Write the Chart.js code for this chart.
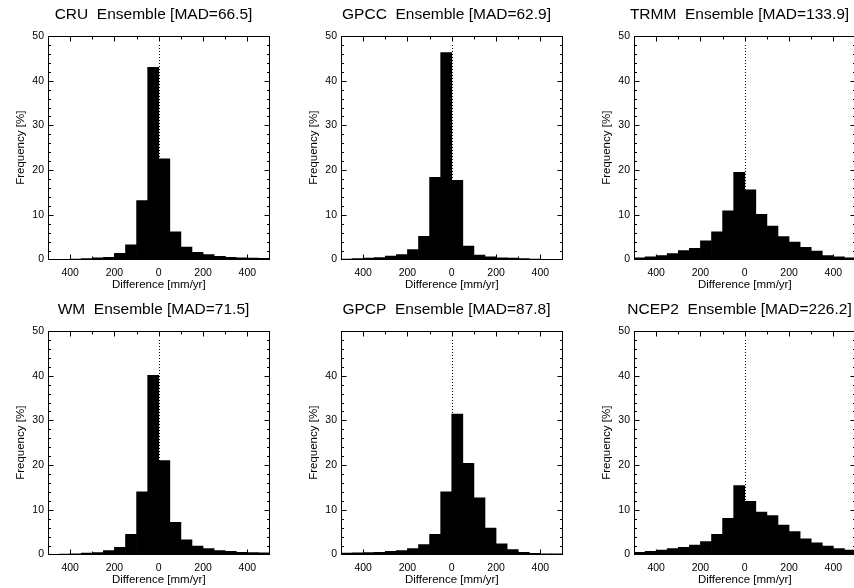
<!DOCTYPE html>
<html>
<head>
<meta charset="utf-8">
<script src="https://cdn.jsdelivr.net/npm/chart.js@4.4.1/dist/chart.umd.min.js"></script>
<style>
html,body{margin:0;padding:0;background:#fff;}
#wrap{position:relative;width:854px;height:588px;overflow:hidden;}
#wrap canvas{position:absolute;}
</style>
</head>
<body>
<div id="wrap"></div>
<script>
// bin centres of the 50 mm/yr bins, -500..500
const BIN_CENTERS = [-475,-425,-375,-325,-275,-225,-175,-125,-75,-25,25,75,125,175,225,275,325,375,425,475];

// frequency [%] per bin
const CRU   = [0.05,0.05,0.1,0.2,0.35,0.5,1.4,3.3,13.2,43.0,22.5,6.2,2.8,1.6,1.1,0.7,0.5,0.4,0.3,0.25];
const GPCC  = [0.1,0.2,0.3,0.45,0.75,1.1,2.2,5.2,18.4,46.3,17.7,3.0,1.0,0.6,0.4,0.3,0.2,0.1,0.05,0.05];
const TRMM  = [0.4,0.6,0.9,1.3,2.0,2.5,4.2,6.2,10.9,19.5,15.6,10.1,7.5,5.1,3.9,2.7,1.9,0.9,0.6,0.4];
const WM    = [0.05,0.1,0.15,0.3,0.45,0.9,1.6,4.5,14.0,40.1,21.0,7.2,3.3,1.9,1.3,0.9,0.7,0.5,0.45,0.35];
const GPCP  = [0.3,0.35,0.45,0.5,0.7,0.9,1.3,2.2,4.5,14.0,31.4,20.4,12.7,5.9,2.4,1.1,0.5,0.25,0.15,0.15];
const NCEP2 = [0.5,0.7,1.0,1.3,1.6,2.1,2.9,4.5,8.1,15.4,11.9,9.5,8.7,6.6,5.1,3.5,2.6,1.9,1.3,1.0];

const TITLES = [
  'CRU  Ensemble [MAD=66.5]',
  'GPCC  Ensemble [MAD=62.9]',
  'TRMM  Ensemble [MAD=133.9]',
  'WM  Ensemble [MAD=71.5]',
  'GPCP  Ensemble [MAD=87.8]',
  'NCEP2  Ensemble [MAD=226.2]'
];
const SERIES = [CRU, GPCC, TRMM, WM, GPCP, NCEP2];

const X_TICKS = [-400,-200,0,200,400];
const X_TICK_LABELS = ['400','200','0','200','400'];
const X_MINOR = [-300,-100,100,300];
const Y_TICKS = [0,10,20,30,40,50];
const Y_TICKS_GPCP = [0,10,20,30,40];
const ZERO_LINE_TOP = 48;

const FONT = "'Liberation Sans', Arial, Helvetica, sans-serif";

// dotted zero line under the bars, then inward IDL-style ticks and the box
const frame = {
  id: 'frame',
  beforeDatasetsDraw(chart){
    const {ctx, scales:{x, y}} = chart;
    const p = Math.round(x.getPixelForValue(0))+0.5;
    ctx.save();
    ctx.strokeStyle = '#000';
    ctx.lineWidth = 1;
    ctx.setLineDash([1, 2]);
    ctx.beginPath();
    ctx.moveTo(p, Math.round(y.getPixelForValue(ZERO_LINE_TOP)));
    ctx.lineTo(p, y.getPixelForValue(0));
    ctx.stroke();
    ctx.restore();
  },
  afterDatasetsDraw(chart){
    const {ctx, chartArea:a, scales:{x, y}} = chart;
    const L = Math.round(a.left)+0.5, R = Math.round(a.right)-0.5;
    const T = Math.round(a.top)+0.5, B = Math.round(a.bottom)-0.5;
    ctx.save();
    ctx.strokeStyle = '#000';
    ctx.lineWidth = 1;
    ctx.strokeRect(L, T, R-L, B-T);
    ctx.beginPath();
    const xt = (v, len) => {
      const p = Math.round(x.getPixelForValue(v))+0.5;
      ctx.moveTo(p, B); ctx.lineTo(p, B-len);
      ctx.moveTo(p, T); ctx.lineTo(p, T+len);
    };
    X_TICKS.forEach(v => xt(v, 5));
    X_MINOR.forEach(v => xt(v, 3));
    for(let v = 2; v < 50; v += 2){
      const len = v % 10 === 0 ? 5 : 2.5;
      const p = Math.round(y.getPixelForValue(v))+0.5;
      ctx.moveTo(L, p); ctx.lineTo(L+len, p);
      ctx.moveTo(R, p); ctx.lineTo(R-len, p);
    }
    ctx.stroke();
    ctx.restore();
  }
};

function makePanel(i){
  const col = i % 3, row = Math.floor(i / 3);
  const cv = document.createElement('canvas');
  cv.width = 307; cv.height = 295;
  cv.style.left = (col*293)+'px';
  cv.style.top = (row*295)+'px';
  document.getElementById('wrap').appendChild(cv);
  const yTicks = TITLES[i].startsWith('GPCP') ? Y_TICKS_GPCP : Y_TICKS;

  new Chart(cv.getContext('2d'), {
    type: 'bar',
    data: {
      datasets: [{
        data: BIN_CENTERS.map((c, k) => ({x: c, y: SERIES[i][k]})),
        backgroundColor: '#000',
        borderWidth: 0,
        barPercentage: 1,
        categoryPercentage: 1
      }]
    },
    options: {
      responsive: false,
      animation: false,
      devicePixelRatio: 1,
      layout: { padding: 0 },
      plugins: {
        legend: { display: false },
        tooltip: { enabled: false },
        title: {
          display: true,
          text: TITLES[i],
          color: '#000',
          font: { family: FONT, size: 15.5, weight: 'normal', lineHeight: 1.2 },
          padding: { top: 5.7, bottom: 11.7 }
        }
      },
      scales: {
        x: {
          type: 'linear',
          min: -500, max: 500,
          offset: false,
          grid: { display: false, drawTicks: false },
          border: { display: false },
          afterBuildTicks: s => { s.ticks = X_TICKS.map(v => ({value: v})); },
          ticks: {
            color: '#000',
            padding: 7,
            maxRotation: 0,
            font: { family: FONT, size: 10.5 },
            callback: v => X_TICK_LABELS[X_TICKS.indexOf(v)]
          },
          title: {
            display: true,
            text: 'Difference [mm/yr]',
            color: '#000',
            font: { family: FONT, size: 11.5 },
            padding: { top: 0, bottom: 3 }
          },
          afterFit: s => { s.height = 35.5; }
        },
        y: {
          min: 0, max: 50,
          grid: { display: false, drawTicks: false },
          border: { display: false },
          afterBuildTicks: s => { s.ticks = yTicks.map(v => ({value: v})); },
          ticks: {
            color: '#000',
            padding: 4,
            font: { family: FONT, size: 10.5 }
          },
          title: {
            display: true,
            text: 'Frequency [%]',
            color: '#000',
            font: { family: FONT, size: 11.5 },
            padding: { top: 13.5, bottom: 0 }
          },
          afterFit: s => { s.width = 48; }
        },
        yR: {
          position: 'right',
          display: true,
          grid: { display: false, drawTicks: false },
          border: { display: false },
          ticks: { display: false },
          afterFit: s => { s.width = 37.5; }
        }
      }
    },
    plugins: [frame]
  });
}

for(let i = 0; i < SERIES.length; i++) makePanel(i);
</script>
</body>
</html>
